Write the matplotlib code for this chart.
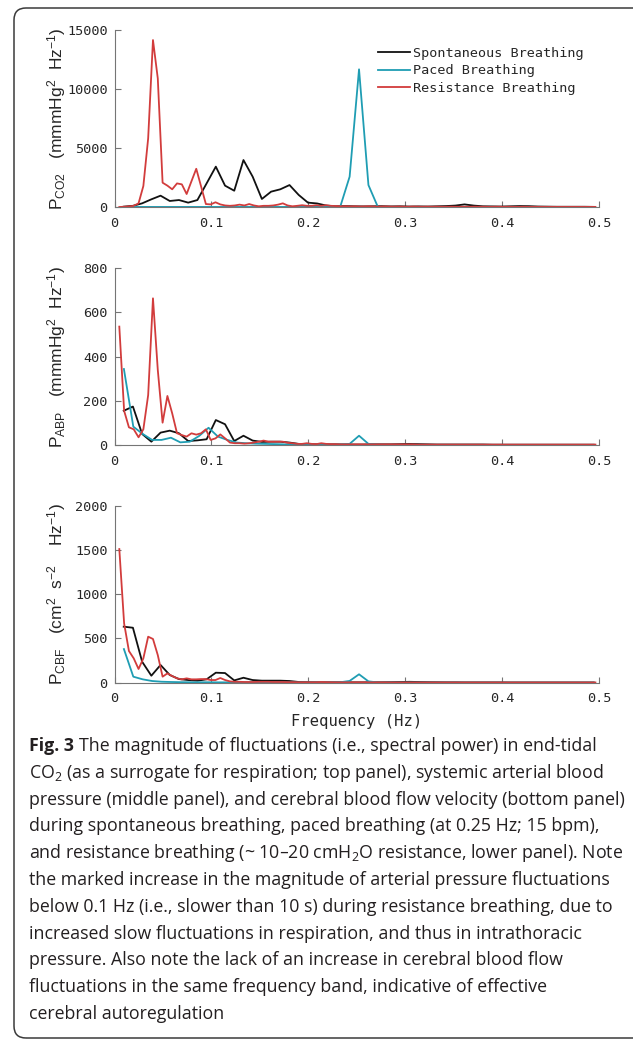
import numpy as np
import matplotlib
matplotlib.use("Agg")
import matplotlib.pyplot as plt
from matplotlib.patches import FancyBboxPatch
from matplotlib.transforms import IdentityTransform

# frequency resolution of each recording (Hz)
DF_SPONT = 0.0095
DF_PACED = 0.0097
DF_RESIST = 0.00496

series_names = ["Spontaneous Breathing", "Paced Breathing", "Resistance Breathing"]

# end-tidal CO2 power
co2_spont = [30, 100, 310, 650, 960, 510, 590, 370, 590, 2000, 3420, 1810, 1380, 3980,
             2570, 680, 1300, 1500, 1860, 1020, 370, 300, 120, 60, 80, 60, 50, 60, 70, 50,
             60, 40, 50, 40, 60, 80, 120, 220, 120, 60, 50, 40, 60, 80, 70, 40, 30, 20, 20,
             20, 20, 10]
co2_paced = [5, 5, 5, 5, 5, 5, 5, 5, 5, 5, 5, 5, 5, 5, 5, 5, 5, 5, 5, 5, 5, 5, 5, 20,
             2570, 11670, 1860, 10, 5, 5, 5, 5, 5, 5, 5, 5, 5, 5, 5, 5, 5, 5, 5, 5, 5, 5,
             5, 5, 5, 5, 5]
co2_resist = [0, 20, 50, 100, 310, 1780, 5820, 14150, 10900, 2060, 1810, 1500, 2000, 1920,
              1100, 2180, 3240, 1750, 250, 220, 400, 220, 130, 100, 130, 200, 130, 250, 130,
              60, 100, 100, 130, 200, 310, 130, 60, 100, 150, 100, 100, 150, 100, 150, 100,
              80, 60, 70, 50, 60, 40, 50, 60, 40, 30, 50, 40, 30, 40, 30, 20, 40, 30, 20,
              30, 20, 30, 20, 20, 30, 20, 20, 20, 20, 30, 20, 20, 10, 20, 20, 10, 20, 10,
              10, 20, 10, 10, 10, 10, 10, 10, 10, 10, 10, 10, 10, 10, 10, 10, 10]

# arterial blood pressure power
abp_spont = [155, 174, 50, 15, 56, 65, 53, 18, 21, 26, 113, 94, 18, 42, 20, 14, 15, 15, 11,
             5, 4, 3, 3, 3, 2, 2, 2, 3, 3, 3, 4, 5, 4, 3, 2, 2, 2, 2, 2, 2, 1, 1, 1, 1, 1,
             1, 1, 1, 1, 1, 1, 1]
abp_paced = [344, 83, 50, 23, 23, 33, 12, 15, 41, 78, 38, 23, 11, 8, 6, 5, 4, 3, 3, 2, 2,
             2, 2, 3, 5, 42, 5, 2, 1, 1, 1, 1, 1, 1, 1, 1, 1, 1, 1, 1, 1, 1, 1, 1, 1, 1, 1,
             1, 1, 1, 1]
abp_resist = [536, 155, 80, 71, 35, 71, 226, 664, 340, 101, 222, 143, 53, 45, 38, 53, 47,
              53, 71, 23, 30, 48, 30, 11, 8, 8, 6, 8, 11, 15, 20, 15, 15, 15, 15, 10, 8, 5,
              5, 8, 5, 4, 8, 5, 4, 4, 3, 3, 3, 3, 3, 3, 3, 3, 3, 3, 3, 3, 3, 3, 3, 3, 2, 2,
              2, 2, 2, 2, 2, 2, 2, 2, 2, 2, 2, 2, 2, 2, 2, 2, 2, 2, 2, 2, 2, 2, 2, 2, 2, 2,
              2, 2, 2, 2, 2, 2, 2, 2, 2, 2]

# cerebral blood flow velocity power
cbf_spont = [633, 621, 237, 79, 200, 87, 41, 30, 23, 38, 113, 109, 26, 56, 30, 23, 23, 23,
             19, 8, 6, 5, 5, 5, 5, 4, 4, 5, 5, 6, 8, 10, 8, 6, 5, 4, 4, 3, 3, 3, 3, 3, 2,
             2, 2, 2, 2, 2, 2, 2, 2, 2]
cbf_paced = [380, 68, 38, 19, 11, 8, 6, 5, 5, 5, 4, 4, 4, 4, 3, 3, 3, 3, 3, 3, 3, 3, 3, 5,
             20, 95, 15, 3, 2, 2, 2, 2, 2, 2, 2, 2, 2, 2, 2, 2, 2, 2, 2, 2, 2, 2, 2, 2, 2,
             2, 2]
cbf_resist = [1510, 670, 358, 275, 155, 275, 520, 494, 312, 68, 105, 75, 49, 38, 49, 38, 38,
              41, 41, 30, 30, 53, 30, 15, 10, 10, 8, 8, 8, 10, 10, 10, 8, 8, 8, 6, 6, 5, 5,
              5, 5, 5, 8, 6, 5, 4, 4, 4, 4, 4, 4, 4, 4, 4, 4, 4, 3, 3, 3, 3, 3, 3, 3, 3, 3,
              3, 3, 3, 3, 3, 3, 3, 3, 3, 3, 3, 3, 3, 3, 3, 3, 3, 3, 3, 3, 3, 3, 3, 3, 3, 3,
              3, 3, 3, 3, 3, 3, 3, 3, 3]

x_ticks = [0, 0.1, 0.2, 0.3, 0.4, 0.5]
x_ticklabels = ["0", "0.1", "0.2", "0.3", "0.4", "0.5"]

panels = [
    (co2_spont, co2_paced, co2_resist, 15000, [0, 5000, 10000, 15000],
     r"$\mathregular{P_{CO2}}$   (mmmHg$\mathregular{^2}$  Hz$\mathregular{^{-1}}$)"),
    (abp_spont, abp_paced, abp_resist, 800, [0, 200, 400, 600, 800],
     r"$\mathregular{P_{ABP}}$   (mmmHg$\mathregular{^2}$  Hz$\mathregular{^{-1}}$)"),
    (cbf_spont, cbf_paced, cbf_resist, 2000, [0, 500, 1000, 1500, 2000],
     r"$\mathregular{P_{CBF}}$   (cm$\mathregular{^2}$  s$\mathregular{^{-2}}$    Hz$\mathregular{^{-1}}$)"),
]

caption = [
    "The magnitude of fluctuations (i.e., spectral power) in end-tidal",
    r"CO$\mathregular{_2}$ (as a surrogate for respiration; top panel), systemic arterial blood",
    "pressure (middle panel), and cerebral blood flow velocity (bottom panel)",
    "during spontaneous breathing, paced breathing (at 0.25 Hz; 15 bpm),",
    r"and resistance breathing (~ 10–20 cmH$\mathregular{_2}$O resistance, lower panel). Note",
    "the marked increase in the magnitude of arterial pressure fluctuations",
    "below 0.1 Hz (i.e., slower than 10 s) during resistance breathing, due to",
    "increased slow fluctuations in respiration, and thus in intrathoracic",
    "pressure. Also note the lack of an increase in cerebral blood flow",
    "fluctuations in the same frequency band, indicative of effective",
    "cerebral autoregulation",
]

colors = ["#111111", "#1f9db3", "#d23c3c"]
steps = [DF_SPONT, DF_PACED, DF_RESIST]
mono = "DejaVu Sans Mono"
W, H = 633, 1042

fig = plt.figure(figsize=(W / 100, H / 100), dpi=100)

# axes boxes in pixels: left, right, top, bottom
left_px, right_px = 114.5, 599.3
boxes = [(30, 207), (268.3, 445), (505.7, 682.7)]

axes = []
for (top_px, bot_px), (s, p, r, ymax, yt, ylab) in zip(boxes, panels):
    ax = fig.add_axes([left_px / W, 1 - bot_px / H, (right_px - left_px) / W,
                       (bot_px - top_px) / H])
    for vals, c, df, name in zip([s, p, r], colors, steps, series_names):
        f = np.arange(1, len(vals) + 1) * df
        ax.plot(f, vals, color=c, lw=1.3, label=name)
    ax.set_xlim(0, 0.5)
    ax.set_ylim(0, ymax)
    ax.set_xticks(x_ticks)
    ax.set_xticklabels(x_ticklabels)
    ax.set_yticks(yt)
    ax.set_yticklabels([str(v) for v in yt])
    for side in ["top", "right"]:
        ax.spines[side].set_visible(False)
    for side in ["left", "bottom"]:
        ax.spines[side].set_color("#757575")
        ax.spines[side].set_linewidth(0.8)
    ax.tick_params(direction="in", length=4, width=0.8, color="#757575",
                   labelcolor="#262626", labelsize=9.7)
    ax.tick_params(axis="x", pad=7)
    ax.tick_params(axis="y", pad=5)
    for lab in ax.get_xticklabels() + ax.get_yticklabels():
        lab.set_family(mono)
    ax.set_ylabel(ylab, family="Liberation Sans", fontsize=12.5, color="#262626")
    ax.yaxis.set_label_coords(-0.095, 0.5)
    axes.append(ax)

axes[2].set_xlabel("Frequency (Hz)", family=mono, fontsize=11.2, color="#262626", labelpad=6)

leg = axes[0].legend(loc="upper left", bbox_to_anchor=((371 - left_px) / (right_px - left_px),
                                                       (207 - 40) / 177),
                     frameon=False, borderpad=0, handlelength=2.4, handletextpad=0.25,
                     labelspacing=0.35, prop={"family": mono, "size": 9.7})
for t in leg.get_texts():
    t.set_color("#262626")

# rounded frame around figure + caption
frame = FancyBboxPatch((14, H - 1038), 700, 1030, boxstyle="round,pad=0,rounding_size=12",
                       transform=IdentityTransform(), fill=False, ec="#3a3a3a", lw=1.1)
fig.patches.append(frame)

# caption
cap_font = "Open Sans"
cap_size = 12.8
x0 = 29 / W
line_h = 26.8
y_first = 746
renderer = fig.canvas.get_renderer()
bold = fig.text(x0, 1 - y_first / H, "Fig. 3", family=cap_font, weight="bold",
                fontsize=cap_size, va="center", color="#231f20")
bb = bold.get_window_extent(renderer)
for i, line in enumerate(caption):
    y = 1 - (y_first + i * line_h) / H
    x = (bb.x1 + 5) / W if i == 0 else x0
    fig.text(x, y, line, family=cap_font, fontsize=cap_size, va="center", color="#231f20")

fig.savefig("out.png", dpi=100)
